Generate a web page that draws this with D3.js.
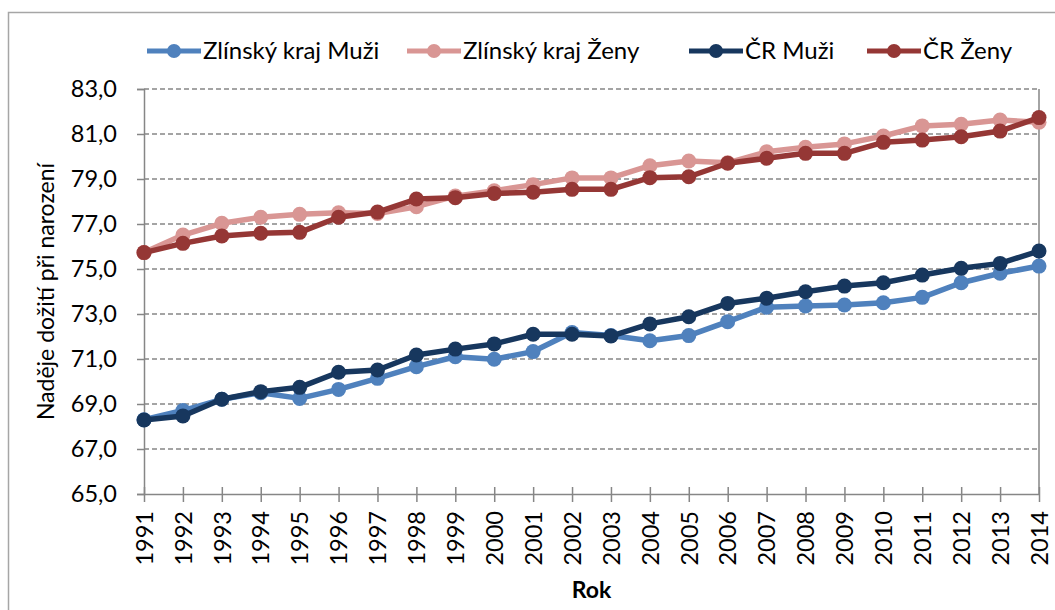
<!DOCTYPE html>
<html>
<head>
<meta charset="utf-8">
<script src="https://cdn.jsdelivr.net/npm/d3@7"></script>
<style>
  body { margin: 0; background: #fff; }
  text { font-family: Lato, "Open Sans", sans-serif; fill: #000; }
</style>
</head>
<body>
<div id="canvas"></div>
<script>
const years = d3.range(1991, 2015);
const seriesNames = ["Zlínský kraj Muži", "Zlínský kraj Ženy", "ČR Muži", "ČR Ženy"];
const zlinMuzi = [68.3, 68.71, 69.21, 69.5, 69.25, 69.65, 70.14, 70.66, 71.1, 70.99, 71.33, 72.18,
  72.04, 71.81, 72.04, 72.66, 73.3, 73.36, 73.4, 73.5, 73.74, 74.39, 74.81, 75.13];
const zlinZeny = [75.73, 76.51, 77.03, 77.3, 77.43, 77.5, 77.47, 77.77, 78.24, 78.48, 78.75, 79.05,
  79.05, 79.59, 79.8, 79.72, 80.21, 80.41, 80.56, 80.91, 81.36, 81.43, 81.62, 81.52];
const crMuzi = [68.29, 68.47, 69.21, 69.55, 69.74, 70.41, 70.51, 71.18, 71.44, 71.67, 72.1, 72.1,
  72.02, 72.56, 72.88, 73.47, 73.7, 73.99, 74.24, 74.39, 74.73, 75.03, 75.25, 75.8];
const crZeny = [75.73, 76.14, 76.47, 76.59, 76.63, 77.3, 77.53, 78.11, 78.17, 78.36, 78.41, 78.54,
  78.54, 79.06, 79.1, 79.7, 79.92, 80.14, 80.14, 80.63, 80.73, 80.88, 81.13, 81.73];
const yTicks = [65, 67, 69, 71, 73, 75, 77, 79, 81, 83];
const colors = ["#4F81BD", "#D99694", "#17375E", "#953735"];

const series = seriesNames.map((name, i) => ({
  name: name,
  color: colors[i],
  values: [zlinMuzi, zlinZeny, crMuzi, crZeny][i]
}));

const width = 1055;
const height = 610;
const margin = { top: 89, left: 144, bottom: 116, right: 16 };
const iwidth = width - margin.left - margin.right;
const iheight = height - margin.top - margin.bottom;

const svg = d3.select("#canvas")
  .append("svg")
  .attr("width", width)
  .attr("height", height);

// ramecek grafu
svg.append("rect")
  .attr("x", 8.5)
  .attr("y", 12.5)
  .attr("width", width)
  .attr("height", height)
  .attr("fill", "none")
  .attr("stroke", "#a6a6a6")
  .attr("stroke-width", 1.5);

const g = svg.append("g")
  .attr("transform", `translate(${margin.left},${margin.top})`);

const x = d3.scalePoint()
  .domain(years)
  .range([0, iwidth]);

const y = d3.scaleLinear()
  .domain([65, 83])
  .range([iheight, 0]);

// mrizka
g.append("g")
  .selectAll("line")
  .data(yTicks.filter(d => d > 65))
  .enter()
  .append("line")
  .attr("x1", 0)
  .attr("x2", iwidth)
  .attr("y1", d => y(d))
  .attr("y2", d => y(d))
  .attr("stroke", "#868686")
  .attr("stroke-width", 1.5)
  .attr("stroke-dasharray", "5,3");

// prava hrana
g.append("line")
  .attr("x1", iwidth)
  .attr("x2", iwidth)
  .attr("y1", 0)
  .attr("y2", iheight)
  .attr("stroke", "#868686")
  .attr("stroke-width", 1.5);

const yAxis = g.append("g")
  .call(d3.axisLeft(y).tickValues(yTicks).tickSize(7).tickPadding(20)
    .tickFormat(d => d3.format(".1f")(d).replace(".", ",")));
yAxis.select(".domain").attr("stroke", "#868686").attr("stroke-width", 1.5);
yAxis.selectAll(".tick line").attr("stroke", "#868686").attr("stroke-width", 1.5);
yAxis.selectAll(".tick text").style("font-size", "23.5px").attr("fill", "#000");

const xAxis = g.append("g")
  .attr("transform", `translate(0,${iheight})`)
  .call(d3.axisBottom(x).tickSize(8).tickSizeOuter(0));
xAxis.select(".domain").attr("stroke", "#868686").attr("stroke-width", 1.5);
xAxis.selectAll(".tick line")
  .attr("y1", -7)
  .attr("stroke", "#868686")
  .attr("stroke-width", 1.5);
xAxis.selectAll(".tick text")
  .style("font-size", "23.5px")
  .attr("fill", "#000")
  .attr("transform", "rotate(-90)")
  .attr("x", -17)
  .attr("y", 0)
  .attr("dy", "0.35em")
  .style("text-anchor", "end");

const line = d3.line()
  .x((d, i) => x(years[i]))
  .y(d => y(d));

series.forEach(s => {
  const sg = g.append("g");
  sg.append("path")
    .datum(s.values)
    .attr("fill", "none")
    .attr("stroke", s.color)
    .attr("stroke-width", 5.5)
    .attr("stroke-linejoin", "round")
    .attr("d", line);
  sg.selectAll("circle")
    .data(s.values)
    .enter()
    .append("circle")
    .attr("cx", (d, i) => x(years[i]))
    .attr("cy", d => y(d))
    .attr("r", 7.5)
    .attr("fill", s.color);
});

// legenda
const legendX = [147, 407, 689, 867];
const legend = svg.append("g");
series.forEach((s, i) => {
  const lg = legend.append("g").attr("transform", `translate(${legendX[i]},51)`);
  lg.append("line")
    .attr("x1", 0).attr("x2", 54)
    .attr("stroke", s.color)
    .attr("stroke-width", 5);
  lg.append("circle")
    .attr("cx", 27)
    .attr("r", 7)
    .attr("fill", s.color);
  lg.append("text")
    .attr("x", 56)
    .attr("dy", "0.35em")
    .style("font-size", "24px")
    .text(s.name);
});

// popisky os
svg.append("text")
  .attr("transform", `translate(46,${margin.top + iheight / 2}) rotate(-90)`)
  .attr("text-anchor", "middle")
  .attr("dy", "0.35em")
  .style("font-size", "23px")
  .text("Naděje dožití při narození");

svg.append("text")
  .attr("x", margin.left + iwidth / 2)
  .attr("y", 598)
  .attr("text-anchor", "middle")
  .style("font-size", "23px")
  .style("font-weight", "bold")
  .text("Rok");
</script>
</body>
</html>
